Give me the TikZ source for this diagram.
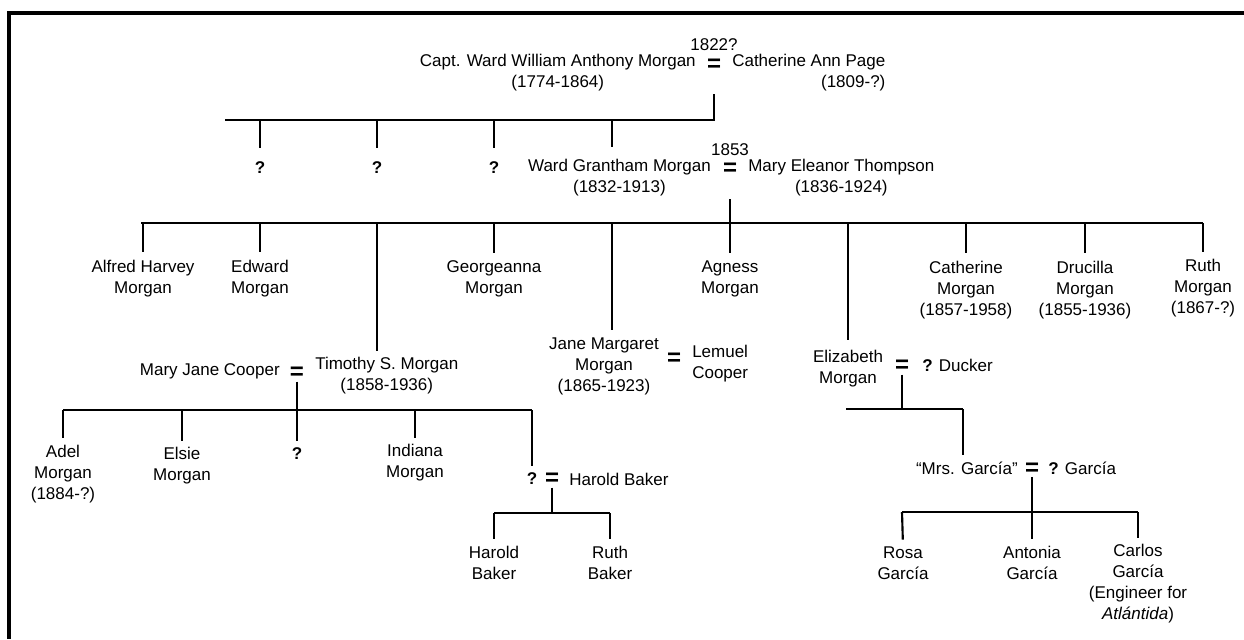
\documentclass[tikz,border=0pt]{standalone}
\usepackage{fontspec}
\setmainfont{Liberation Sans}
\usetikzlibrary{calc}
\newcommand\famfont{\fontsize{12.75}{15.75}\selectfont}
\newcommand\wedfont{\fontsize{18}{18}\selectfont\bfseries}

\begin{document}
\begin{tikzpicture}[x=0.75pt, y=-0.75pt]
    \tikzset{
        person/.style={align=center, inner sep=0pt, font=\famfont},
        unk/.style={inner sep=0pt, font=\famfont\bfseries},
        wed/.style={inner sep=0pt, font=\wedfont},
        tie/.style={line width=1.6pt}
    }
    \useasboundingbox (0,0) rectangle (1244,639);

    % frame
    \draw[
        line width=3pt
    ] (1244,13) -- (9,13) -- (9,639);

    % Capt. Ward and Catherine
    \node[person] (yr1822) at (714,45) {1822?};
    \node[wed] (eq1) at (714,65) {=};
    \node[person, anchor=east] (capt) at (696,73) {Capt. Ward William Anthony Morgan\\(1774-1864)};
    \node[person, align=right, anchor=west] (cath) at (732,73) {Catherine Ann Page\\(1809-?)};

    \coordinate (b1l) at (225,120);
    \coordinate (b1r) at (714,120);
    \draw[tie, shorten <=2pt] (eq1 |- capt.south) -- (b1r) -- (b1l);

    \node[unk] (q1) at (260,168) {?};
    \node[unk] (q2) at (377,168) {?};
    \node[unk] (q3) at (494,168) {?};
    \draw[tie, shorten >=10pt] (b1l -| q1) -- (q1.north);
    \draw[tie, shorten >=10pt] (b1l -| q2) -- (q2.north);
    \draw[tie, shorten >=10pt] (b1l -| q3) -- (q3.north);

    % Ward Grantham and Mary Eleanor
    \node[person] (yr1853) at (730,150) {1853};
    \node[wed] (eq2) at (730,169) {=};
    \node[person, anchor=east] (ward) at (711,178) {Ward Grantham Morgan\\(1832-1913)};
    \node[person, anchor=west] (mary) at (748,178) {Mary Eleanor Thompson\\(1836-1924)};

    \coordinate (dWard) at (612,120);
    \draw[tie, shorten >=9pt] (dWard) -- (dWard |- ward.north);

    \coordinate (b2l) at (141,223);
    \coordinate (b2r) at (1203,223);
    \draw[tie, shorten <=2pt] (eq2 |- mary.south) -- (eq2 |- b2l);
    \draw[tie] (b2l) -- (b2r);

    \node[person] (alfred) at (143,279) {Alfred Harvey\\Morgan};
    \node[person] (edward) at (260,279) {Edward\\Morgan};
    \node[person] (georg) at (494,279) {Georgeanna\\Morgan};
    \node[person] (agness) at (730,279) {Agness\\Morgan};
    \node[person] (cathm) at (966,290) {Catherine\\Morgan\\(1857-1958)};
    \node[person] (dru) at (1085,290) {Drucilla\\Morgan\\(1855-1936)};
    \node[person] (ruth) at (1203,288) {Ruth\\Morgan\\(1867-?)};
    \draw[tie, shorten >=6pt] (b2l -| alfred) -- (alfred.north);
    \draw[tie, shorten >=6pt] (b2l -| edward) -- (edward.north);
    \draw[tie, shorten >=6pt] (b2l -| georg) -- (georg.north);
    \draw[tie, shorten >=6pt] (b2l -| agness) -- (agness.north);
    \draw[tie, shorten >=6pt] (b2l -| cathm) -- (cathm.north);
    \draw[tie, shorten >=6pt] (b2l -| dru) -- (dru.north);
    \draw[tie, shorten >=5pt] (b2r) -- (ruth.north);

    % Jane Margaret and Lemuel
    \node[person] (jane) at (604,366) {Jane Margaret\\Morgan\\(1865-1923)};
    \node[wed] (eqJ) at (674,359) {=};
    \node[person, align=left, anchor=west] (lemuel) at (692,364) {Lemuel\\Cooper};
    \coordinate (dJane) at (612,223);
    \draw[tie, shorten >=5pt] (dJane) -- (dJane |- jane.north);

    % Timothy and Mary Jane
    \node[person, anchor=east] (mjc) at (280,371) {Mary Jane Cooper};
    \node[wed] (eqT) at (297,373) {=};
    \node[person, anchor=west] (tim) at (315,376) {Timothy S. Morgan\\(1858-1936)};
    \coordinate (dTim) at (377,223);
    \draw[tie, shorten >=5pt] (dTim) -- (dTim |- tim.north);

    \coordinate (b3l) at (63,410);
    \coordinate (b3r) at (532,410);
    \draw[tie, shorten <=1.5pt] (eqT.south) -- (eqT |- b3l);
    \draw[tie] (b3l) -- (b3r);

    \node[person] (adel) at (63,474) {Adel\\Morgan\\(1884-?)};
    \node[person] (elsie) at (182,466) {Elsie\\Morgan};
    \node[unk] (q4) at (297,454) {?};
    \node[person] (indiana) at (415,463) {Indiana\\Morgan};
    \node[unk] (qH) at (532,479) {?};
    \draw[tie, shorten >=5pt] (b3l -| adel) -- (adel.north);
    \draw[tie, shorten >=5pt] (b3l -| elsie) -- (elsie.north);
    \draw[tie, shorten >=5pt] (b3l -| q4) -- (q4.north);
    \draw[tie, shorten >=5pt] (b3l -| indiana) -- (indiana.north);
    \draw[tie, shorten >=5pt] (b3r) -- (qH.north);

    % Harold Baker
    \node[wed] (eqH) at (552,479) {=};
    \node[person, anchor=west] (hbaker) at (569,479) {Harold Baker};
    \coordinate (b4l) at (494,513);
    \coordinate (b4r) at (610,513);
    \draw[tie, shorten <=1.5pt] (eqH.south) -- (eqH |- b4l);
    \draw[tie] (b4l) -- (b4r);

    \node[person] (haroldb) at (494,563) {Harold\\Baker};
    \node[person] (ruthb) at (610,563) {Ruth\\Baker};
    \draw[tie, shorten >=5pt] (b4l) -- (haroldb.north);
    \draw[tie, shorten >=5pt] (b4r) -- (ruthb.north);

    % Elizabeth and Ducker
    \node[person] (eliz) at (848,369) {Elizabeth\\Morgan};
    \node[wed] (eqE) at (902,366) {=};
    \node[person, anchor=west] (ducker) at (922,365) {\textbf{?} Ducker};
    \draw[tie, shorten >=8pt] (b2l -| eliz) -- (eliz.north);

    \coordinate (b5l) at (846,409);
    \coordinate (b5r) at (963,409);
    \draw[tie, shorten <=1.5pt] (eqE.south) -- (eqE |- b5l);
    \draw[tie] (b5l) -- (b5r);

    % Mrs. Garcia
    \node[person, anchor=east] (mrs) at (1018,468) {“Mrs. García”};
    \node[wed] (eqG) at (1032,469) {=};
    \node[person, anchor=west] (qgar) at (1048,468) {\textbf{?} García};
    \draw[tie, shorten >=5pt] (b5r) -- (b5r |- mrs.north);

    \coordinate (b6l) at (902,512);
    \coordinate (b6r) at (1138,512);
    \draw[tie, shorten <=1pt] (eqG.south) -- (eqG |- b6l);
    \draw[tie] (b6l) -- (b6r);

    \node[person] (rosa) at (903,563) {Rosa\\García};
    \node[person] (antonia) at (1032,563) {Antonia\\García};
    \node[person] (carlos) at (1138,584) {Carlos\\García\\(Engineer for\\\textit{Atlántida})};
    \draw[tie, shorten >=5pt] (b6l) -- (rosa.north);
    \draw[tie, shorten >=5pt] (b6l -| antonia) -- (antonia.north);
    \draw[tie, shorten >=5pt] (b6r) -- (carlos.north);

\end{tikzpicture}
\end{document}
